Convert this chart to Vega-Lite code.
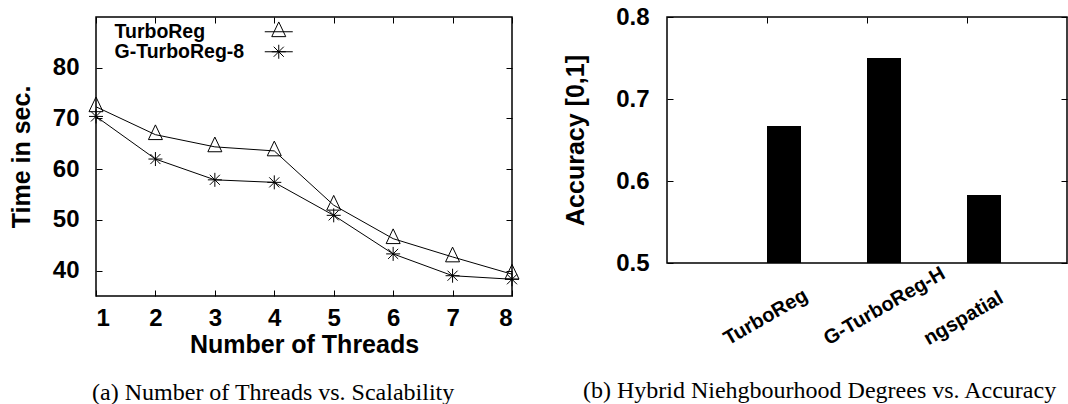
{
  "$schema": "https://vega.github.io/schema/vega-lite/v6.json",
  "background": "white",
  "padding": {"left": 8, "top": 4, "right": 0, "bottom": 0},
  "bounds": "flush",
  "spacing": 155,
  "config": {
    "font": "Liberation Sans",
    "view": {"stroke": "black", "strokeWidth": 1.5},
    "axis": {
      "labelFont": "Liberation Sans", "labelFontWeight": "bold", "labelFontSize": 24, "labelColor": "black",
      "titleFont": "Liberation Sans", "titleFontWeight": "bold", "titleFontSize": 25, "titleColor": "black",
      "grid": false, "domain": false, "tickColor": "black", "tickWidth": 1, "tickSize": -6
    },
    "title": {"font": "Liberation Serif", "fontWeight": "normal", "fontSize": 24, "color": "black", "orient": "bottom", "anchor": "middle", "frame": "bounds"}
  },
  "hconcat": [
    {
      "width": 416,
      "height": 279,
      "title": {"text": "(a) Number of Threads vs. Scalability", "offset": 24, "dx": 8},
      "data": {"values": [
        {"threads": 1, "method": "TurboReg", "time": 72.3},
        {"threads": 2, "method": "TurboReg", "time": 66.8},
        {"threads": 3, "method": "TurboReg", "time": 64.4},
        {"threads": 4, "method": "TurboReg", "time": 63.6},
        {"threads": 5, "method": "TurboReg", "time": 52.9},
        {"threads": 6, "method": "TurboReg", "time": 46.3},
        {"threads": 7, "method": "TurboReg", "time": 42.7},
        {"threads": 8, "method": "TurboReg", "time": 39.3},
        {"threads": 1, "method": "G-TurboReg-8", "time": 70.4},
        {"threads": 2, "method": "G-TurboReg-8", "time": 62.0},
        {"threads": 3, "method": "G-TurboReg-8", "time": 57.9},
        {"threads": 4, "method": "G-TurboReg-8", "time": 57.4},
        {"threads": 5, "method": "G-TurboReg-8", "time": 50.9},
        {"threads": 6, "method": "G-TurboReg-8", "time": 43.3},
        {"threads": 7, "method": "G-TurboReg-8", "time": 39.0},
        {"threads": 8, "method": "G-TurboReg-8", "time": 38.3}
      ]},
      "layer": [
        {
          "mark": {"type": "line", "color": "black", "strokeWidth": 1},
          "encoding": {
            "x": {"field": "threads", "type": "quantitative", "scale": {"domain": [1, 8], "nice": false},
                  "axis": {"orient": "bottom", "values": [1, 2, 3, 4, 5, 6, 7, 8], "title": "Number of Threads", "labelPadding": 16, "titlePadding": 2}},
            "y": {"field": "time", "type": "quantitative", "scale": {"domain": [35, 90], "nice": false, "zero": false},
                  "axis": {"orient": "left", "values": [40, 50, 60, 70, 80], "title": "Time in sec.", "labelPadding": 23, "titlePadding": 18}},
            "detail": {"field": "method"}
          }
        },
        {
          "mark": {"type": "point", "filled": false, "color": "black", "strokeWidth": 1, "size": 196, "opacity": 1},
          "encoding": {
            "x": {"field": "threads", "type": "quantitative",
                  "axis": {"orient": "top", "values": [1, 2, 3, 4, 5, 6, 7, 8], "labels": false, "title": null}},
            "y": {"field": "time", "type": "quantitative",
                  "axis": {"orient": "right", "values": [40, 50, 60, 70, 80], "labels": false, "title": null}},
            "shape": {"field": "method", "type": "nominal",
                      "scale": {"domain": ["TurboReg", "G-TurboReg-8"], "range": ["M0,-1.4L-1,0.7L1,0.7Z", "M-1,0L1,0M0,-1L0,1M-0.72,-0.72L0.72,0.72M-0.72,0.72L0.72,-0.72"]},
                      "legend": null}
          }
        },
        {
          "transform": [{"filter": "datum.threads < 0"}],
          "mark": {"type": "point", "filled": false, "color": "black", "strokeWidth": 1, "size": 196},
          "encoding": {
            "x": {"field": "threads", "type": "quantitative", "axis": null},
            "y": {"field": "time", "type": "quantitative", "axis": null},
            "shape": {"field": "method", "type": "nominal",
                      "scale": {"domain": ["TurboReg", "G-TurboReg-8"], "range": ["M0,-1.4L-1,0.7L1,0.7ZM-2,0L2,0", "M-1,0L1,0M0,-1L0,1M-0.72,-0.72L0.72,0.72M-0.72,0.72L0.72,-0.72M-2,0L2,0"]},
                      "legend": {
                        "title": null, "orient": "none", "legendX": 173, "legendY": 5, "direction": "vertical",
                        "padding": 0, "labelAlign": "left", "labelOffset": -174, "labelFont": "Liberation Sans",
                        "labelFontWeight": "bold", "labelFontSize": 19.5, "labelColor": "black", "rowPadding": -4,
                        "symbolSize": 196, "symbolStrokeColor": "black", "symbolFillColor": "transparent",
                        "symbolStrokeWidth": 1, "symbolOpacity": 1, "labelLimit": 300
                      }}
          }
        }
      ],
      "resolve": {"axis": {"x": "independent", "y": "independent"}, "scale": {"shape": "independent"}}
    },
    {
      "width": 400,
      "height": 246,
      "title": {"text": "(b) Hybrid Niehgbourhood Degrees vs. Accuracy", "offset": 31, "dx": 4},
      "data": {"values": [
        {"method": "TurboReg", "accuracy": 0.667},
        {"method": "G-TurboReg-H", "accuracy": 0.75},
        {"method": "ngspatial", "accuracy": 0.583}
      ]},
      "layer": [
        {
          "mark": {"type": "bar", "color": "black", "width": 34, "xOffset": 17},
          "encoding": {
            "x": {"field": "method", "type": "nominal", "sort": null, "scale": {"type": "point", "padding": 1},
                  "axis": {"orient": "bottom", "title": null, "ticks": false, "labelAngle": -30, "labelAlign": "left", "labelBaseline": "alphabetic",
                           "labelFontSize": 20, "labelOffset": -39, "labelPadding": 82, "labelLimit": 300}},
            "y": {"field": "accuracy", "type": "quantitative", "scale": {"domain": [0.5, 0.8], "nice": false, "zero": false},
                  "axis": {"orient": "left", "values": [0.5, 0.6, 0.7, 0.8], "format": ".1f", "title": "Accuracy [0,1]", "labelPadding": 24, "titlePadding": 27}},
            "y2": {"datum": 0.5}
          }
        },
        {
          "mark": {"type": "point", "opacity": 0},
          "encoding": {
            "x": {"field": "method", "type": "nominal", "sort": null,
                  "axis": {"orient": "top", "labels": false, "title": null}},
            "y": {"field": "accuracy", "type": "quantitative",
                  "axis": {"orient": "right", "values": [0.5, 0.6, 0.7, 0.8], "labels": false, "title": null}}
          }
        }
      ],
      "resolve": {"axis": {"x": "independent", "y": "independent"}}
    }
  ]
}
